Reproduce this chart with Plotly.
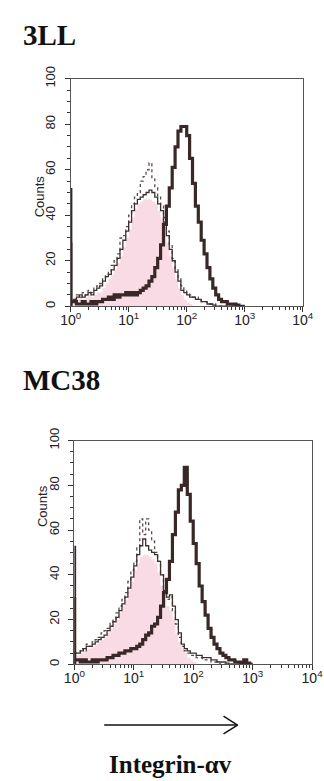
import plotly.graph_objects as go

# ---- data (log10 channel position, counts) ----
log_ch = [0.00, 0.05, 0.10, 0.15, 0.20, 0.25, 0.30, 0.35, 0.40, 0.45,
          0.50, 0.55, 0.60, 0.65, 0.70, 0.75, 0.80, 0.85, 0.90, 0.95,
          1.00, 1.05, 1.10, 1.15, 1.20, 1.25, 1.30, 1.35, 1.40, 1.45,
          1.50, 1.55, 1.60, 1.65, 1.70, 1.75, 1.80, 1.85, 1.90, 1.95,
          2.00, 2.05, 2.10, 2.15, 2.20, 2.25, 2.30, 2.35, 2.40, 2.45,
          2.50, 2.55, 2.60, 2.65, 2.70, 2.75, 2.80, 2.85, 2.90, 2.95,
          3.00]

# first-channel (off-scale low) pile-up counts: [control, integrin]
lll_first_channel = [52, 28]
mc_first_channel = [53, 30]

# 3LL
lll_integrin = [2, 2, 1, 1, 2, 1, 1, 2, 1, 2,
                2, 3, 3, 4, 3, 5, 4, 5, 5, 6,
                5, 6, 5, 6, 7, 8, 9, 11, 13, 17,
                21, 27, 36, 44, 52, 61, 70, 77, 79, 79,
                75, 65, 54, 44, 37, 29, 23, 17, 12, 8,
                5, 3, 2, 2, 1, 1, 1, 0.5, 0, 0,
                0]
lll_ctrl_fill = [2, 2, 3, 4, 3, 4, 5, 4, 5, 6,
                 6, 8, 10, 12, 14, 16, 19, 22, 26, 30,
                 34, 39, 43, 45, 46, 47, 47, 47, 46, 45,
                 42, 39, 34, 28, 22, 17, 12, 8, 5, 3,
                 2, 1, 0, 0, 0, 0, 0, 0, 0, 0,
                 0, 0, 0, 0, 0, 0, 0, 0, 0, 0,
                 0]
lll_ctrl_solid = [2, 3, 4, 5, 4, 5, 6, 5, 7, 8,
                  9, 11, 13, 14, 16, 18, 21, 25, 29, 33,
                  37, 42, 45, 47, 48, 49, 50, 51, 50, 48,
                  45, 42, 37, 31, 25, 20, 15, 11, 7, 6,
                  5, 4, 4, 3, 3, 2, 2, 1, 1, 0.5,
                  0, 0, 0, 0, 0, 0, 0, 0, 0, 0,
                  0]
lll_ctrl_dash = [2, 3, 5, 4, 6, 5, 7, 6, 8, 9,
                 10, 12, 14, 15, 18, 20, 23, 30, 31, 35,
                 40, 45, 48, 50, 55, 57, 60, 63, 56, 52,
                 48, 44, 39, 33, 27, 21, 16, 12, 9, 7,
                 6, 5, 4, 4, 3, 2, 2, 1, 1, 1,
                 0, 0, 0, 0, 0, 0, 0, 0, 0, 0,
                 0]

# MC38
mc_integrin = [2, 2, 1, 2, 1, 1, 2, 1, 2, 2,
               2, 3, 3, 4, 4, 5, 5, 6, 6, 7,
               7, 8, 9, 11, 13, 14, 17, 18, 21, 26,
               32, 38, 46, 58, 68, 78, 80, 88, 76, 64,
               54, 45, 35, 28, 22, 16, 12, 9, 7, 5,
               4, 3, 2, 2, 1, 1, 0.5, 2, 0.5, 0,
               0]
mc_ctrl_fill = [4, 4, 5, 6, 7, 7, 8, 9, 10, 11,
                12, 14, 16, 18, 20, 23, 26, 29, 33, 37,
                42, 45, 48, 49, 49, 48, 47, 45, 41, 35,
                30, 26, 24, 20, 14, 10, 7, 5, 3, 2,
                1, 0, 0, 0, 0, 0, 0, 0, 0, 0,
                0, 0, 0, 0, 0, 0, 0, 0, 0, 0,
                0]
mc_ctrl_solid = [5, 5, 6, 7, 8, 8, 9, 10, 11, 12,
                 13, 15, 17, 19, 21, 24, 27, 30, 34, 39,
                 44, 49, 53, 56, 53, 51, 50, 49, 46, 40,
                 33, 30, 31, 26, 20, 14, 9, 7, 6, 5,
                 5, 4, 4, 3, 3, 3, 2, 2, 1, 1,
                 1, 0.5, 0, 0, 0, 0, 0, 0, 0, 0,
                 0]
mc_ctrl_dash = [5, 5, 7, 6, 9, 8, 10, 11, 12, 14,
                15, 16, 19, 20, 23, 26, 29, 32, 37, 42,
                46, 52, 65, 58, 65, 60, 55, 50, 46, 40,
                34, 29, 30, 24, 18, 12, 8, 6, 5, 4,
                4, 3, 3, 2, 2, 2, 1, 1, 1, 0,
                0, 0, 0, 0, 0, 0, 0, 0, 0, 0,
                0]

y_ticks = [0, 20, 40, 60, 80, 100]
x_tickvals = [1, 10, 100, 1000, 10000]
x_ticktext = ['10<sup>0</sup>', '10<sup>1</sup>', '10<sup>2</sup>', '10<sup>3</sup>', '10<sup>4</sup>']

panel_titles = ['3LL', 'MC38']
marker_label = 'Integrin-\u03b1v'

# ---- styling ----
W, H = 324, 781
DARK = '#3a2828'
THIN = '#3f3030'
DASH = '#5a4a4a'
PINK = '#f9dbe6'

def px(x):
    return x / W

def py(y):
    return 1 - y / H

intensity = [10 ** d for d in log_ch]
minor_vals = [m * 10 ** e for e in range(4) for m in range(2, 10)]

fig = go.Figure()

panels = [
    dict(xa='x', ya='y', first=lll_first_channel,
         data=(lll_ctrl_fill, lll_ctrl_dash, lll_ctrl_solid, lll_integrin)),
    dict(xa='x2', ya='y2', first=mc_first_channel,
         data=(mc_ctrl_fill, mc_ctrl_dash, mc_ctrl_solid, mc_integrin)),
]
for p in panels:
    fill, dash, solid, integ = p['data']
    kw = dict(xaxis=p['xa'], yaxis=p['ya'], showlegend=False, hoverinfo='skip')
    fig.add_trace(go.Scatter(x=intensity, y=fill, mode='lines', line=dict(width=0, shape='hv', color=PINK),
                             fill='tozeroy', fillcolor=PINK, **kw))
    fig.add_trace(go.Scatter(x=intensity, y=dash, mode='lines',
                             line=dict(width=1.3, shape='hv', color=DASH, dash='dot'), **kw))
    fig.add_trace(go.Scatter(x=intensity, y=solid, mode='lines',
                             line=dict(width=1.3, shape='hv', color=THIN), **kw))
    fig.add_trace(go.Scatter(x=intensity, y=integ, mode='lines',
                             line=dict(width=3.2, shape='hv', color=DARK), **kw))
    # first-channel pile-up drawn as a spike on the left edge
    for v in p['first']:
        fig.add_trace(go.Scatter(x=[1.02, 1.02], y=[0, v], mode='lines',
                                 line=dict(width=2.5, color=DARK), **kw))

axis_common = dict(showgrid=False, zeroline=False, showline=True, mirror=True, linecolor='#555555', linewidth=1,
                   ticks='outside', tickcolor='#333333', tickwidth=1)

xcommon = dict(axis_common, type='log', range=[0, 4], tickvals=x_tickvals, ticktext=x_ticktext, ticklen=5,
               ticklabelstandoff=-4, ticklabeloverflow='allow',
               tickfont=dict(family='Liberation Sans, Arial', size=14, color='#222222'),
               minor=dict(ticks='outside', tickvals=minor_vals, ticklen=3, tickcolor='#333333'))
ycommon = dict(axis_common, range=[0, 100], tickvals=y_ticks, ticklen=5, tickangle=-90,
               ticklabelstandoff=4,
               tickfont=dict(family='Liberation Sans, Arial', size=13, color='#222222'),
               minor=dict(ticks='outside', dtick=5, ticklen=3, tickcolor='#333333'))

fig.update_layout(
    width=W, height=H, margin=dict(l=0, r=0, t=0, b=0), autosize=False,
    paper_bgcolor='white', plot_bgcolor='white',
    xaxis=dict(xcommon, domain=[px(64), px(313)], anchor='y'),
    yaxis=dict(ycommon, domain=[py(299), py(67)], anchor='x'),
    xaxis2=dict(xcommon, domain=[px(68), px(323)], anchor='y2'),
    yaxis2=dict(ycommon, domain=[py(664), py(436)], anchor='x2'),
)

serif = 'Liberation Serif, Times New Roman, serif'
sans = 'Liberation Sans, Arial, sans-serif'
ann = [
    dict(text='<b>%s</b>' % panel_titles[0], x=px(11), y=py(22), xanchor='left', yanchor='middle',
         font=dict(family=serif, size=29, color='#111111')),
    dict(text='<b>%s</b>' % panel_titles[1], x=px(11), y=py(374), xanchor='left', yanchor='middle',
         font=dict(family=serif, size=29, color='#111111')),
    dict(text='Counts', x=px(30), y=py(187), textangle=-90, xanchor='center', yanchor='middle',
         font=dict(family=sans, size=13, color='#222222')),
    dict(text='Counts', x=px(34), y=py(503), textangle=-90, xanchor='center', yanchor='middle',
         font=dict(family=sans, size=13, color='#222222')),
    dict(text='<b>%s</b>' % marker_label, x=px(171), y=py(766), xanchor='center', yanchor='middle',
         font=dict(family=serif, size=25, color='#111111')),
]
for a in ann:
    a.update(xref='paper', yref='paper', showarrow=False)
fig.update_layout(annotations=ann)

arrow = dict(type='line', xref='paper', yref='paper', line=dict(color='#111111', width=1.5))
fig.update_layout(shapes=[
    dict(arrow, x0=px(100), y0=py(726), x1=px(243), y1=py(726)),
    dict(arrow, x0=px(228), y0=py(717), x1=px(243), y1=py(726)),
    dict(arrow, x0=px(228), y0=py(735), x1=px(243), y1=py(726)),
])

fig.write_html('out.html', config={'displayModeBar': False})
